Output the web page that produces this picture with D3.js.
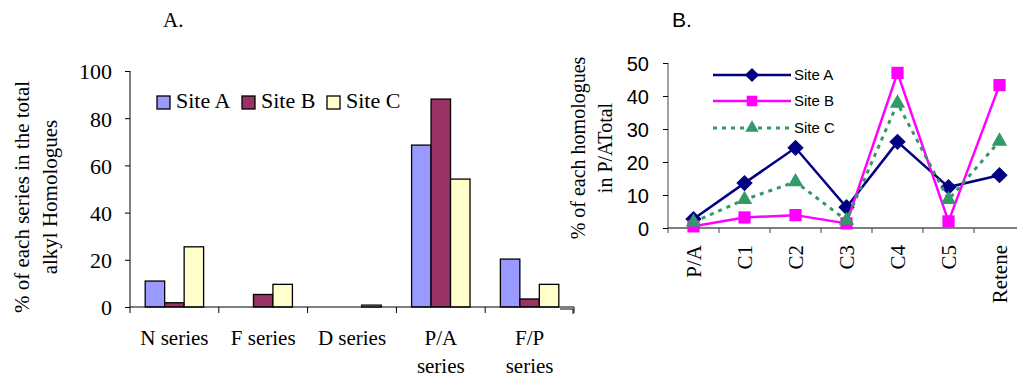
<!DOCTYPE html>
<html>
<head>
<meta charset="utf-8">
<script src="https://cdn.jsdelivr.net/npm/d3@7"></script>
<style>
  body { margin: 0; background: #fff; }
  svg { display: block; }
</style>
</head>
<body>
<svg id="chart" width="1017" height="377"></svg>
<script>
// panel A data
const seriesA = ['N series', 'F series', 'D series', 'P/A series', 'F/P series'];
const sites = ['Site A', 'Site B', 'Site C'];
const siteA_bars = [11, 0, 0, 68.6, 20.3];
const siteB_bars = [1.8, 5.3, 0, 88.1, 3.4];
const siteC_bars = [25.5, 9.6, 0.8, 54.2, 9.6];
const ticksA = [0, 20, 40, 60, 80, 100];

// panel B data
const homologues = ['P/A', 'C1', 'C2', 'C3', 'C4', 'C5', 'Retene'];
const siteA_line = [2.7, 13.6, 24.3, 6.3, 26.1, 12.4, 16];
const siteB_line = [0.5, 3.2, 3.9, 1.4, 47, 2, 43.3];
const siteC_line = [1.8, 8.6, 14, 2.3, 37.8, 8.6, 26.3];
const ticksB = [0, 10, 20, 30, 40, 50];

const serif = 'Liberation Serif, Times New Roman, serif';
const sans = 'Liberation Sans, Arial, sans-serif';
const svg = d3.select('#chart');

// ---------- A. bar chart ----------
const barColors = ['#9999ff', '#993366', '#ffffcc'];
const barData = [siteA_bars, siteB_bars, siteC_bars];

const x0 = d3.scaleBand().domain(seriesA).range([130, 574]);
const x1 = d3.scaleBand().domain(sites).range([0, x0.bandwidth()]).paddingInner(0).paddingOuter(0.78);
const yA = d3.scaleLinear().domain([0, 100]).range([307, 71]);

svg.append('text').attr('x', 163).attr('y', 27)
  .style('font-family', serif).style('font-size', '21px').text('A.');

const gA = svg.append('g');
seriesA.forEach((s, i) => {
  sites.forEach((site, j) => {
    const v = barData[j][i];
    if (v <= 0) return;
    gA.append('rect')
      .attr('x', x0(s) + x1(site))
      .attr('y', yA(v))
      .attr('width', x1.bandwidth())
      .attr('height', yA(0) - yA(v))
      .attr('fill', barColors[j])
      .attr('stroke', '#000')
      .attr('stroke-width', 1.3);
  });
});

// y axis A
const yAxisA = gA.append('g').attr('transform', 'translate(130,0)')
  .call(d3.axisLeft(yA).tickValues(ticksA).tickSize(5).tickPadding(13));
yAxisA.select('.domain').attr('d', `M0,${yA(100)}V${yA(0)}`);
yAxisA.selectAll('text').style('font-family', serif).style('font-size', '22px').attr('dy', '0.36em');

// x axis A (ticks at category boundaries)
const bounds = seriesA.map(s => x0(s)).concat([x0.range()[1]]);
gA.append('line').attr('x1', 130).attr('x2', 574).attr('y1', yA(0)).attr('y2', yA(0))
  .attr('stroke', '#000').attr('stroke-width', 1.2);
gA.selectAll('.xtick').data(bounds).join('line')
  .attr('x1', d => d).attr('x2', d => d).attr('y1', yA(0)).attr('y2', yA(0) + 6)
  .attr('stroke', '#000');
seriesA.forEach(s => {
  const cx = x0(s) + x0.bandwidth() / 2;
  const parts = s.split(' ');
  const lines = (s === 'P/A series' || s === 'F/P series') ? [parts[0], parts[1]] : [s];
  lines.forEach((ln, k) => {
    gA.append('text').attr('x', cx).attr('y', 345 + k * 28)
      .attr('text-anchor', 'middle')
      .style('font-family', serif).style('font-size', '21px').text(ln);
  });
});

// y label A
const ylA = svg.append('text').attr('transform', 'translate(0,197) rotate(-90)')
  .attr('text-anchor', 'middle').style('font-family', serif).style('font-size', '21px');
ylA.append('tspan').attr('x', 0).attr('y', 29).text('% of each series in the total');
ylA.append('tspan').attr('x', 0).attr('y', 57).text('alkyl Homologues');

// legend A
const legA = [157, 242, 327];
sites.forEach((site, j) => {
  svg.append('rect').attr('x', legA[j]).attr('y', 96).attr('width', 13).attr('height', 13)
    .attr('fill', barColors[j]).attr('stroke', '#000').attr('stroke-width', 1.3);
  svg.append('text').attr('x', legA[j] + 19).attr('y', 108)
    .style('font-family', serif).style('font-size', '22px').text(site);
});

// ---------- B. line chart ----------
const lineColors = ['#000080', '#ff00ff', '#339966'];
const lineData = [siteA_line, siteB_line, siteC_line];
const dashes = [null, null, '4,5'];
const markers = [d3.symbolDiamond2, d3.symbolSquare2, d3.symbolTriangle2];
const mSize = [170, 190, 170];

const xB = d3.scalePoint().domain(homologues).range([668, 1025]).padding(0.5);
const xStep = xB.step();
const yB = d3.scaleLinear().domain([0, 50]).range([228, 63]);

svg.append('text').attr('x', 672).attr('y', 27)
  .style('font-family', sans).style('font-size', '21px').text('B.');

const gB = svg.append('g');
const yAxisB = gB.append('g').attr('transform', 'translate(668,0)')
  .call(d3.axisLeft(yB).tickValues(ticksB).tickSize(5).tickPadding(14));
yAxisB.select('.domain').attr('d', `M0,${yB(50)}V${yB(0)}`).attr('stroke', '#444');
yAxisB.selectAll('text').style('font-family', sans).style('font-size', '20px').attr('dy', '0.36em');

gB.append('line').attr('x1', 668).attr('x2', 1017).attr('y1', yB(0)).attr('y2', yB(0))
  .attr('stroke', '#000').attr('stroke-width', 1.2);
const bB = homologues.map(h => xB(h) - xStep / 2);
gB.selectAll('.xtick').data(bB).join('line')
  .attr('x1', d => d).attr('x2', d => d).attr('y1', yB(0)).attr('y2', yB(0) + 5)
  .attr('stroke', '#444');
homologues.forEach(h => {
  gB.append('text').attr('transform', `translate(${xB(h) + 7},245) rotate(-90)`)
    .attr('text-anchor', 'end')
    .style('font-family', serif).style('font-size', '21px').text(h);
});

// y label B
const ylB = svg.append('text').attr('transform', 'translate(0,148) rotate(-90)')
  .attr('text-anchor', 'middle').style('font-family', serif).style('font-size', '20px');
ylB.append('tspan').attr('x', 0).attr('y', 585).text('% of each homologues');
ylB.append('tspan').attr('x', 0).attr('y', 612).text('in P/ATotal');

const line = d3.line().x((d, i) => xB(homologues[i])).y(d => yB(d));
lineData.forEach((vals, j) => {
  gB.append('path').datum(vals).attr('d', line)
    .attr('fill', 'none').attr('stroke', lineColors[j]).attr('stroke-width', j === 2 ? 3 : 2.5)
    .attr('stroke-dasharray', dashes[j]);
  gB.selectAll(null).data(vals).join('path')
    .attr('transform', (d, i) => `translate(${xB(homologues[i])},${yB(d)})`)
    .attr('d', d3.symbol().type(markers[j]).size(mSize[j]))
    .attr('fill', lineColors[j]);
});

// legend B
const legBY = [75, 101, 128];
sites.forEach((site, j) => {
  svg.append('line').attr('x1', 713).attr('x2', 791).attr('y1', legBY[j]).attr('y2', legBY[j])
    .attr('stroke', lineColors[j]).attr('stroke-width', j === 2 ? 3 : 2.5)
    .attr('stroke-dasharray', dashes[j]);
  svg.append('path').attr('transform', `translate(752,${legBY[j]})`)
    .attr('d', d3.symbol().type(markers[j]).size(mSize[j] * 0.75))
    .attr('fill', lineColors[j]);
  svg.append('text').attr('x', 794).attr('y', legBY[j] + 5)
    .style('font-family', sans).style('font-size', '15px').text(site);
});

// small frame corner left of panel B
svg.append('path').attr('d', 'M560,309H573V314').attr('fill', 'none').attr('stroke', '#000');
</script>
</body>
</html>
